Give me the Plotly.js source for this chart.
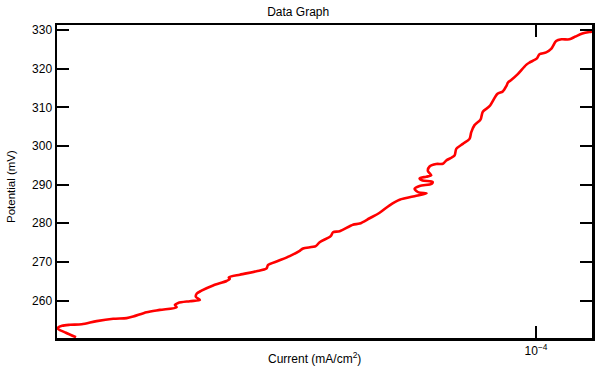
<!DOCTYPE html>
<html>
<head>
<meta charset="utf-8">
<script src="https://cdn.plot.ly/plotly-3.0.1.min.js"></script>
<style>html,body{margin:0;padding:0;background:#fff}#chart{width:600px;height:368px}</style>
</head>
<body>
<div id="chart"></div>
<script>
// Current density (mA/cm²)
const current = [
  2.132e-5, 2.061e-5, 2.002e-5, 2.034e-5, 2.089e-5, 2.173e-5, 2.285e-5, 2.416e-5, 2.527e-5, 2.584e-5,
  2.702e-5, 2.826e-5, 2.989e-5, 2.972e-5, 3.005e-5, 3.125e-5, 3.232e-5, 3.189e-5, 3.199e-5, 3.250e-5,
  3.379e-5, 3.535e-5, 3.574e-5, 3.562e-5, 3.696e-5, 3.909e-5, 4.042e-5, 4.064e-5, 4.199e-5, 4.371e-5,
  4.520e-5, 4.571e-5, 4.770e-5, 4.834e-5, 5.016e-5, 5.055e-5, 5.170e-5, 5.405e-5, 5.528e-5, 5.717e-5,
  5.912e-5, 6.114e-5, 6.323e-5, 6.687e-5, 6.922e-5, 6.739e-5, 6.649e-5, 6.762e-5, 7.039e-5, 7.063e-5,
  6.830e-5, 6.762e-5, 6.915e-5, 7.032e-5, 6.953e-5, 6.992e-5, 7.151e-5, 7.311e-5, 7.395e-5, 7.604e-5,
  7.648e-5, 7.819e-5, 7.997e-5, 8.042e-5, 8.132e-5, 8.297e-5, 8.362e-5, 8.552e-5, 8.785e-5, 8.942e-5,
  9.054e-5, 9.100e-5, 9.207e-5, 9.404e-5, 9.673e-5, 9.780e-5, 1.0030e-4, 1.0114e-4, 1.0344e-4, 1.0519e-4,
  1.0697e-4, 1.0889e-4, 1.1185e-4, 1.1413e-4, 1.1684e-4, 1.1962e-4, 1.2124e-4
];
// Potential (mV)
const potential = [
  250.49, 251.65, 252.81, 253.45, 253.71, 253.84, 254.66, 255.26, 255.44, 255.85,
  256.98, 257.58, 258.27, 258.87, 259.38, 259.82, 260.15, 260.93, 261.83, 262.55,
  263.89, 265.05, 265.57, 265.95, 266.68, 267.55, 268.27, 269.18, 270.21, 271.49,
  272.86, 273.48, 274.07, 275.10, 276.65, 277.68, 277.94, 279.61, 279.92, 281.29,
  282.71, 284.64, 286.06, 287.09, 287.73, 287.99, 288.89, 289.66, 290.18, 290.70,
  291.08, 291.60, 292.04, 292.37, 293.53, 294.69, 295.34, 295.39, 296.24, 297.53,
  299.25, 300.54, 301.83, 303.53, 305.39, 306.80, 308.87, 310.28, 313.51, 314.10,
  315.57, 316.42, 317.11, 318.58, 320.98, 321.57, 322.65, 323.74, 324.20, 325.10,
  327.16, 327.60, 327.60, 328.32, 329.10, 329.48, 329.61
];
const yTicks = [260, 270, 280, 290, 300, 310, 320, 330];
const xTickVals = [1e-4];
const xTickText = ['10<sup>\u22124</sup>'];
const titleText = 'Data Graph';
const xTitle = 'Current (mA/cm<sup>2</sup>)';
const yTitle = 'Potential (mV)';

const FONT = 'Liberation Sans, Arial, sans-serif';

Plotly.newPlot('chart', [{
  x: current,
  y: potential,
  type: 'scatter',
  mode: 'lines',
  line: {color: 'rgb(255,0,0)', width: 2.6, shape: 'spline', smoothing: 0.8},
  hoverinfo: 'skip'
}], {
  width: 600, height: 368,
  margin: {l: 57, r: 8, t: 25, b: 30},
  paper_bgcolor: '#fff', plot_bgcolor: '#fff',
  font: {family: FONT, size: 12, color: '#000'},
  showlegend: false,
  title: {text: titleText, x: 0.497, xanchor: 'center', y: 0.967, yanchor: 'middle', yref: 'container', font: {family: FONT, size: 12, color: '#000'}},
  xaxis: {
    type: 'log',
    range: [Math.log10(2e-5), -4 + 56 / 686.2],
    tickvals: xTickVals, ticktext: xTickText,
    ticks: 'inside', ticklen: 12, tickwidth: 2, tickcolor: '#000',
    showline: true, linecolor: '#000', linewidth: 2.5, mirror: 'ticks',
    showgrid: false, zeroline: false,
    tickfont: {family: FONT, size: 12, color: '#000'}
  },
  yaxis: {
    range: [250.3, 331.3],
    tickvals: yTicks,
    ticks: 'inside', ticklen: 12, tickwidth: 2, tickcolor: '#000',
    showline: true, linecolor: '#000', linewidth: 2.5, mirror: 'ticks',
    showgrid: false, zeroline: false,
    tickfont: {family: FONT, size: 12, color: '#000'}
  },
  annotations: [
    {text: xTitle, xref: 'paper', yref: 'paper', x: (314 - 57) / 535, y: -(358 - 338) / 313,
     xanchor: 'center', yanchor: 'middle', showarrow: false, font: {family: FONT, size: 12, color: '#000'}},
    {text: yTitle, xref: 'paper', yref: 'paper', x: -(57 - 11) / 535, y: (338 - 187) / 313, textangle: -90,
     xanchor: 'center', yanchor: 'middle', showarrow: false, font: {family: FONT, size: 11.5, color: '#000'}}
  ]
}, {displayModeBar: false, staticPlot: true});
</script>
</body>
</html>
